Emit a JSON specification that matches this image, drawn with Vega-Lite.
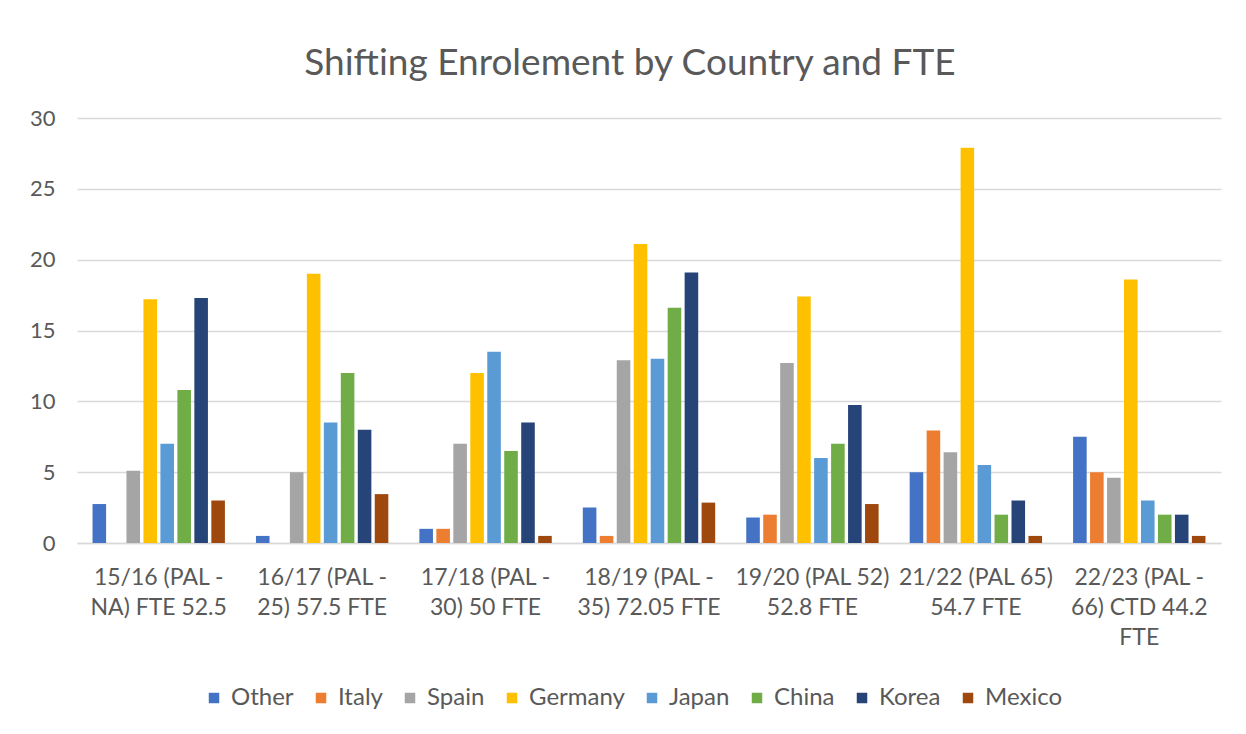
{
  "$schema": "https://vega.github.io/schema/vega-lite/v6.json",
  "autosize": {"type": "none"},
  "padding": {"left": 77, "top": 118, "right": 25, "bottom": 191},
  "width": 1144,
  "height": 425,
  "background": "white",
  "title": {
    "text": "Shifting Enrolement by Country and FTE",
    "font": "Lato",
    "fontSize": 37,
    "fontWeight": "normal",
    "color": "#595959",
    "anchor": "middle",
    "frame": "group",
    "dx": -19,
    "offset": 24
  },
  "data": {
    "values": [
      {"period": "15/16 (PAL - NA) FTE 52.5", "country": "Other", "value": 2.75},
      {"period": "15/16 (PAL - NA) FTE 52.5", "country": "Italy", "value": 0},
      {"period": "15/16 (PAL - NA) FTE 52.5", "country": "Spain", "value": 5.1},
      {"period": "15/16 (PAL - NA) FTE 52.5", "country": "Germany", "value": 17.2},
      {"period": "15/16 (PAL - NA) FTE 52.5", "country": "Japan", "value": 7},
      {"period": "15/16 (PAL - NA) FTE 52.5", "country": "China", "value": 10.8},
      {"period": "15/16 (PAL - NA) FTE 52.5", "country": "Korea", "value": 17.3},
      {"period": "15/16 (PAL - NA) FTE 52.5", "country": "Mexico", "value": 3},
      {"period": "16/17 (PAL - 25) 57.5 FTE", "country": "Other", "value": 0.5},
      {"period": "16/17 (PAL - 25) 57.5 FTE", "country": "Italy", "value": 0},
      {"period": "16/17 (PAL - 25) 57.5 FTE", "country": "Spain", "value": 5},
      {"period": "16/17 (PAL - 25) 57.5 FTE", "country": "Germany", "value": 19},
      {"period": "16/17 (PAL - 25) 57.5 FTE", "country": "Japan", "value": 8.5},
      {"period": "16/17 (PAL - 25) 57.5 FTE", "country": "China", "value": 12},
      {"period": "16/17 (PAL - 25) 57.5 FTE", "country": "Korea", "value": 8},
      {"period": "16/17 (PAL - 25) 57.5 FTE", "country": "Mexico", "value": 3.45},
      {"period": "17/18 (PAL - 30) 50 FTE", "country": "Other", "value": 1},
      {"period": "17/18 (PAL - 30) 50 FTE", "country": "Italy", "value": 1},
      {"period": "17/18 (PAL - 30) 50 FTE", "country": "Spain", "value": 7},
      {"period": "17/18 (PAL - 30) 50 FTE", "country": "Germany", "value": 12},
      {"period": "17/18 (PAL - 30) 50 FTE", "country": "Japan", "value": 13.5},
      {"period": "17/18 (PAL - 30) 50 FTE", "country": "China", "value": 6.5},
      {"period": "17/18 (PAL - 30) 50 FTE", "country": "Korea", "value": 8.5},
      {"period": "17/18 (PAL - 30) 50 FTE", "country": "Mexico", "value": 0.5},
      {"period": "18/19 (PAL - 35) 72.05 FTE", "country": "Other", "value": 2.5},
      {"period": "18/19 (PAL - 35) 72.05 FTE", "country": "Italy", "value": 0.5},
      {"period": "18/19 (PAL - 35) 72.05 FTE", "country": "Spain", "value": 12.9},
      {"period": "18/19 (PAL - 35) 72.05 FTE", "country": "Germany", "value": 21.1},
      {"period": "18/19 (PAL - 35) 72.05 FTE", "country": "Japan", "value": 13},
      {"period": "18/19 (PAL - 35) 72.05 FTE", "country": "China", "value": 16.6},
      {"period": "18/19 (PAL - 35) 72.05 FTE", "country": "Korea", "value": 19.1},
      {"period": "18/19 (PAL - 35) 72.05 FTE", "country": "Mexico", "value": 2.85},
      {"period": "19/20 (PAL 52) 52.8 FTE", "country": "Other", "value": 1.8},
      {"period": "19/20 (PAL 52) 52.8 FTE", "country": "Italy", "value": 2},
      {"period": "19/20 (PAL 52) 52.8 FTE", "country": "Spain", "value": 12.7},
      {"period": "19/20 (PAL 52) 52.8 FTE", "country": "Germany", "value": 17.4},
      {"period": "19/20 (PAL 52) 52.8 FTE", "country": "Japan", "value": 6},
      {"period": "19/20 (PAL 52) 52.8 FTE", "country": "China", "value": 7},
      {"period": "19/20 (PAL 52) 52.8 FTE", "country": "Korea", "value": 9.75},
      {"period": "19/20 (PAL 52) 52.8 FTE", "country": "Mexico", "value": 2.75},
      {"period": "21/22 (PAL 65) 54.7 FTE", "country": "Other", "value": 5},
      {"period": "21/22 (PAL 65) 54.7 FTE", "country": "Italy", "value": 7.95},
      {"period": "21/22 (PAL 65) 54.7 FTE", "country": "Spain", "value": 6.4},
      {"period": "21/22 (PAL 65) 54.7 FTE", "country": "Germany", "value": 27.9},
      {"period": "21/22 (PAL 65) 54.7 FTE", "country": "Japan", "value": 5.5},
      {"period": "21/22 (PAL 65) 54.7 FTE", "country": "China", "value": 2},
      {"period": "21/22 (PAL 65) 54.7 FTE", "country": "Korea", "value": 3},
      {"period": "21/22 (PAL 65) 54.7 FTE", "country": "Mexico", "value": 0.5},
      {"period": "22/23  (PAL - 66) CTD 44.2 FTE", "country": "Other", "value": 7.5},
      {"period": "22/23  (PAL - 66) CTD 44.2 FTE", "country": "Italy", "value": 5},
      {"period": "22/23  (PAL - 66) CTD 44.2 FTE", "country": "Spain", "value": 4.6},
      {"period": "22/23  (PAL - 66) CTD 44.2 FTE", "country": "Germany", "value": 18.6},
      {"period": "22/23  (PAL - 66) CTD 44.2 FTE", "country": "Japan", "value": 3},
      {"period": "22/23  (PAL - 66) CTD 44.2 FTE", "country": "China", "value": 2},
      {"period": "22/23  (PAL - 66) CTD 44.2 FTE", "country": "Korea", "value": 2},
      {"period": "22/23  (PAL - 66) CTD 44.2 FTE", "country": "Mexico", "value": 0.5}
    ]
  },
  "mark": {"type": "bar"},
  "encoding": {
    "x": {
      "field": "period",
      "type": "nominal",
      "sort": null,
      "scale": {"paddingInner": 0.19, "paddingOuter": 0.095},
      "axis": {
        "title": null,
        "labelAngle": 0,
        "labelFont": "Lato",
        "labelFontSize": 23,
        "labelColor": "#595959",
        "labelPadding": 23,
        "labelBaseline": "top",
        "labelLineHeight": 30,
        "ticks": false,
        "domainColor": "#D9D9D9",
        "domainWidth": 1.5,
        "labelExpr": "datum.value == '15/16 (PAL - NA) FTE 52.5' ? ['15/16 (PAL -', 'NA) FTE 52.5'] : datum.value == '16/17 (PAL - 25) 57.5 FTE' ? ['16/17 (PAL -', '25) 57.5 FTE'] : datum.value == '17/18 (PAL - 30) 50 FTE' ? ['17/18 (PAL -', '30) 50 FTE'] : datum.value == '18/19 (PAL - 35) 72.05 FTE' ? ['18/19 (PAL -', '35) 72.05 FTE'] : datum.value == '19/20 (PAL 52) 52.8 FTE' ? ['19/20 (PAL 52)', '52.8 FTE'] : datum.value == '21/22 (PAL 65) 54.7 FTE' ? ['21/22 (PAL 65)', '54.7 FTE'] : ['22/23  (PAL -', '66) CTD 44.2', 'FTE']"
      }
    },
    "xOffset": {
      "field": "country",
      "type": "nominal",
      "sort": ["Other", "Italy", "Spain", "Germany", "Japan", "China", "Korea", "Mexico"],
      "scale": {"paddingInner": 0.2, "paddingOuter": 0}
    },
    "y": {
      "field": "value",
      "type": "quantitative",
      "scale": {"domain": [0, 30], "nice": false},
      "axis": {
        "title": null,
        "values": [0, 5, 10, 15, 20, 25, 30],
        "domain": false,
        "ticks": false,
        "gridColor": "#D9D9D9",
        "gridWidth": 1.5,
        "labelFont": "Lato",
        "labelFontSize": 22,
        "labelColor": "#595959",
        "labelPadding": 22
      }
    },
    "color": {
      "field": "country",
      "type": "nominal",
      "scale": {
        "domain": ["Other", "Italy", "Spain", "Germany", "Japan", "China", "Korea", "Mexico"],
        "range": ["#4472C4", "#ED7D31", "#A5A5A5", "#FFC000", "#5B9BD5", "#70AD47", "#264478", "#9E480E"]
      },
      "legend": {
        "title": null,
        "orient": "none",
        "direction": "horizontal",
        "legendX": 125,
        "legendY": 568,
        "symbolType": "square",
        "symbolSize": 110,
        "symbolStrokeWidth": 0,
        "labelFont": "Lato",
        "labelFontSize": 24,
        "labelColor": "#595959",
        "labelOffset": 5,
        "columnPadding": 15
      }
    }
  },
  "config": {
    "view": {"stroke": null},
    "axis": {"gridColor": "#D9D9D9"}
  }
}
